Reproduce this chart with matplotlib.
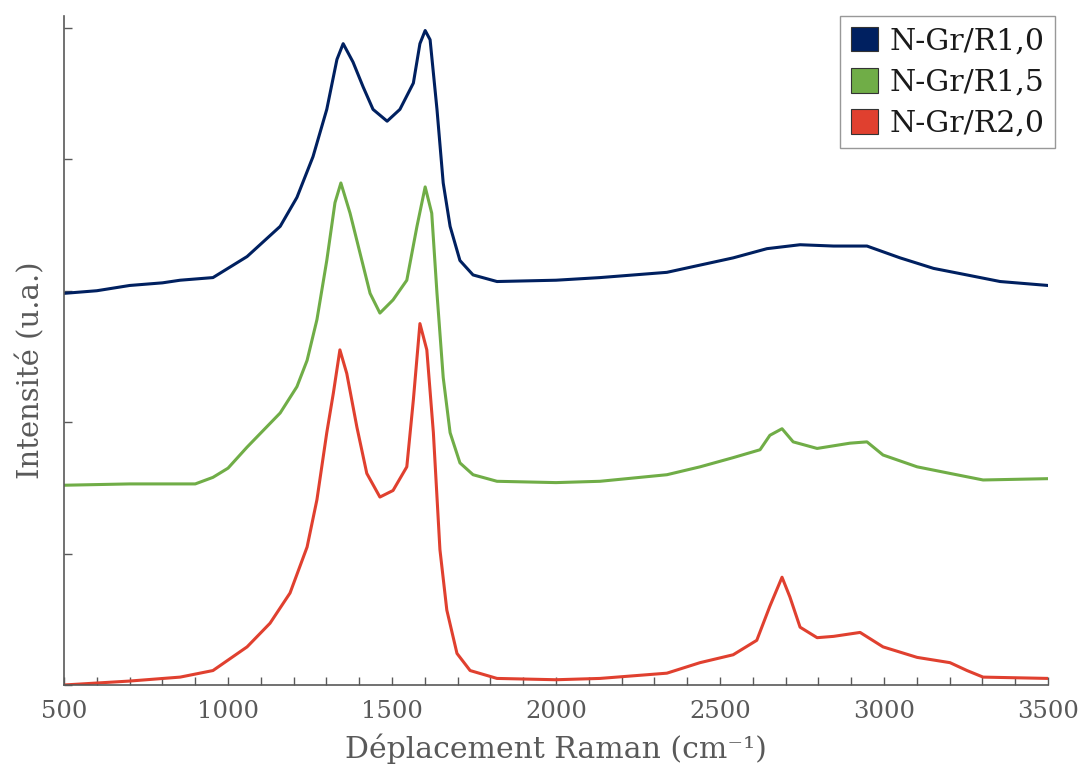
import matplotlib
matplotlib.use("Agg")
import matplotlib.pyplot as plt
from matplotlib.patches import Patch
from matplotlib.ticker import MultipleLocator

# ---- data (x in cm-1, y in arbitrary units, stacked) ----
labels = ["N-Gr/R1,0", "N-Gr/R1,5", "N-Gr/R2,0"]
colors = ["#002060", "#70AD47", "#E0402F"]

blue_x = [500, 600, 700, 800, 854, 954, 1058, 1159, 1210, 1259, 1301, 1332, 1351, 1381,
          1412, 1442, 1485, 1524, 1565, 1585, 1601, 1616, 1637, 1656, 1677, 1707, 1747,
          1820, 2000, 2134, 2338, 2540, 2643, 2744, 2846, 2948, 3049, 3151, 3253, 3354, 3500]
blue_y = [2.98, 3.00, 3.04, 3.06, 3.08, 3.10, 3.26, 3.49, 3.71, 4.02, 4.38, 4.76, 4.88, 4.74,
          4.55, 4.38, 4.29, 4.38, 4.58, 4.88, 4.98, 4.91, 4.38, 3.82, 3.49, 3.23, 3.12,
          3.07, 3.08, 3.10, 3.14, 3.25, 3.32, 3.35, 3.34, 3.34, 3.25, 3.17, 3.12, 3.07, 3.04]

green_x = [500, 700, 900, 954, 1000, 1058, 1159, 1210, 1241, 1271, 1301, 1326, 1344, 1372,
           1402, 1433, 1463, 1503, 1545, 1576, 1601, 1621, 1637, 1656, 1677, 1707, 1747,
           1820, 2000, 2134, 2338, 2439, 2540, 2622, 2652, 2689, 2723, 2796, 2896, 2948,
           2997, 3101, 3201, 3302, 3500]
green_y = [1.52, 1.53, 1.53, 1.58, 1.65, 1.81, 2.07, 2.27, 2.47, 2.78, 3.23, 3.67, 3.82, 3.59,
           3.29, 2.98, 2.83, 2.93, 3.08, 3.49, 3.79, 3.59, 2.98, 2.34, 1.92, 1.69, 1.60,
           1.55, 1.54, 1.55, 1.60, 1.66, 1.73, 1.79, 1.90, 1.95, 1.85, 1.80, 1.84, 1.85,
           1.75, 1.66, 1.61, 1.56, 1.57]

red_x = [500, 700, 854, 954, 1058, 1128, 1189, 1241, 1271, 1301, 1321, 1341, 1362, 1393,
         1423, 1463, 1503, 1545, 1565, 1585, 1606, 1626, 1646, 1667, 1698, 1738, 1820,
         2000, 2134, 2338, 2439, 2540, 2612, 2652, 2689, 2713, 2744, 2796, 2846, 2927,
         2997, 3101, 3201, 3253, 3302, 3500]
red_y = [0.00, 0.03, 0.06, 0.11, 0.29, 0.47, 0.70, 1.05, 1.41, 1.92, 2.22, 2.55, 2.37, 1.96,
         1.61, 1.43, 1.48, 1.66, 2.17, 2.75, 2.55, 1.92, 1.03, 0.57, 0.24, 0.11, 0.05,
         0.04, 0.05, 0.09, 0.17, 0.23, 0.34, 0.60, 0.82, 0.67, 0.44, 0.36, 0.37, 0.40,
         0.29, 0.21, 0.17, 0.11, 0.06, 0.05]

x_ticks = [500, 1000, 1500, 2000, 2500, 3000, 3500]

gray = "#595959"
font = "DejaVu Serif"
fig = plt.figure(figsize=(10.82, 7.72), dpi=100)
ax = fig.add_axes([0.0592, 0.1127, 0.9094, 0.8665])

series = [(blue_x, blue_y), (green_x, green_y), (red_x, red_y)]
for (xs, ys), c in zip(series, colors):
    ax.plot(xs, ys, color=c, lw=2.2, solid_joinstyle="round")

ax.set_xlim(500, 3500)
ax.set_ylim(0, 5.09)
ax.set_xticks(x_ticks)
ax.xaxis.set_minor_locator(MultipleLocator(100))
ax.yaxis.set_major_locator(MultipleLocator(1))
ax.set_yticklabels([])
for s in ["top", "right"]:
    ax.spines[s].set_visible(False)
for s in ["left", "bottom"]:
    ax.spines[s].set_color(gray)
    ax.spines[s].set_linewidth(1.2)
ax.tick_params(axis="both", which="both", direction="in", color=gray, width=1.0)
ax.tick_params(axis="x", which="major", length=6, labelsize=17.5, labelcolor=gray, pad=11)
ax.tick_params(axis="x", which="minor", length=6)
ax.tick_params(axis="y", which="major", length=6)
for lab in ax.get_xticklabels():
    lab.set_family(font)

ax.set_xlabel("Déplacement Raman (cm⁻¹)", family=font, fontsize=21.5, color=gray)
ax.xaxis.set_label_coords(0.5, -0.072)
ax.set_ylabel("Intensité (u.a.)", family=font, fontsize=21, color=gray)
ax.yaxis.set_label_coords(-0.019, 0.471)

handles = [Patch(facecolor=c, edgecolor="#333333", linewidth=0.8) for c in colors]
leg = ax.legend(handles, labels, loc="upper right", bbox_to_anchor=(1.007, 1.0),
                prop={"family": font, "size": 21.5}, frameon=True, fancybox=False,
                edgecolor="#7f7f7f", handlelength=0.9, handleheight=0.9,
                handletextpad=0.4, labelspacing=0.42, borderpad=0.35, borderaxespad=0.0)
leg.get_frame().set_linewidth(1.0)
for t in leg.get_texts():
    t.set_color("#1a1a1a")

fig.savefig("out.png", dpi=100)
